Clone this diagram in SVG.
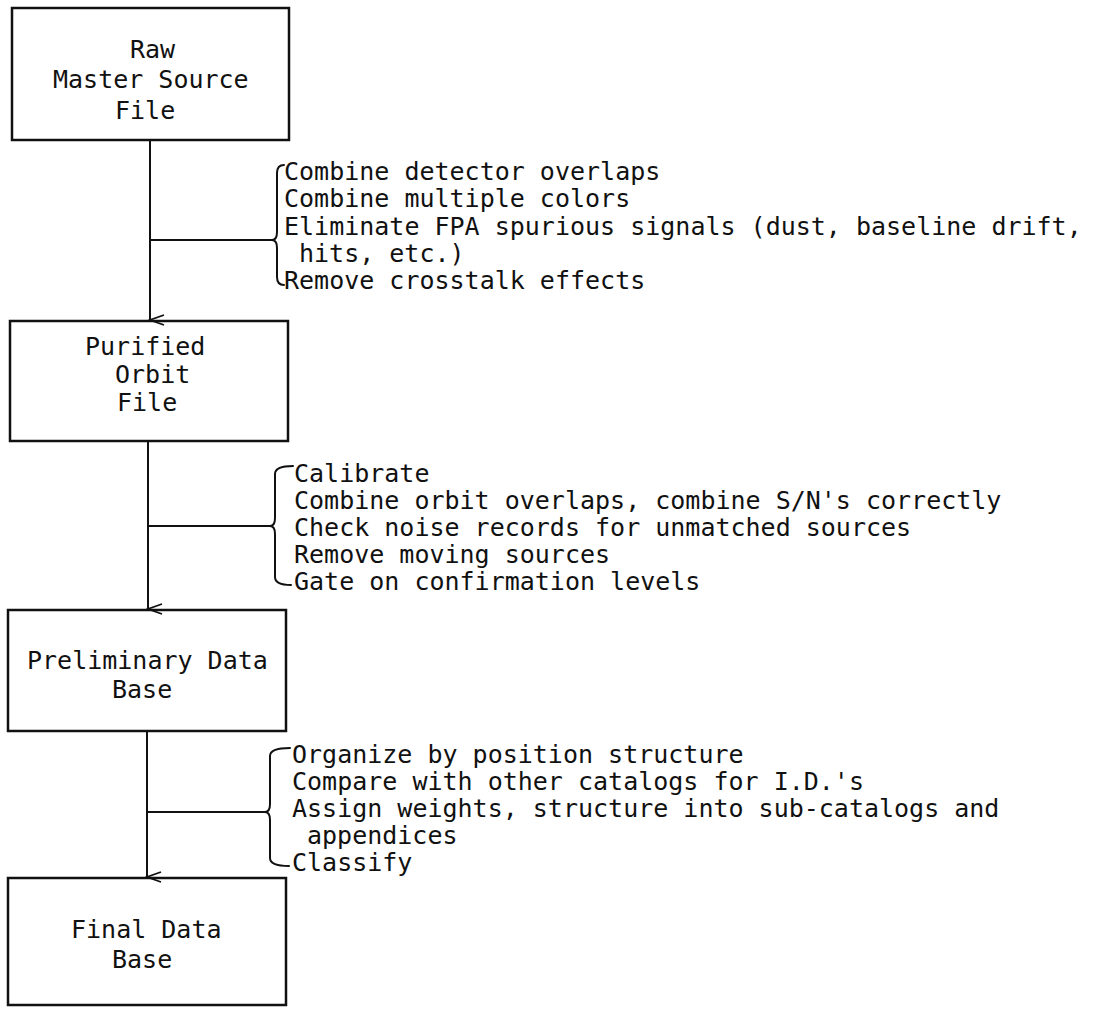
<svg xmlns="http://www.w3.org/2000/svg" width="1095" height="1009" viewBox="0 0 1095 1009">
<style>
.box{fill:none;stroke:#111;stroke-width:2.5}
.ln{fill:none;stroke:#111;stroke-width:2}
.br{fill:none;stroke:#111;stroke-width:2;stroke-linecap:round;stroke-linejoin:round}
text{font-family:"DejaVu Sans Mono","Liberation Mono",monospace;font-size:25px;fill:#111}
</style>
<defs>
<marker id="arr" markerWidth="16" markerHeight="20" refX="8" refY="18" orient="auto-start-reverse" markerUnits="userSpaceOnUse" viewBox="0 0 16 20">
<path d="M3,4 L8,18 L13,4" fill="none" stroke="#111" stroke-width="1.8"/>
</marker>
</defs>
<rect width="1095" height="1009" fill="#fff"/>
<g id="n1">
<rect class="box" x="12" y="8" width="277" height="132"/>
<text x="130" y="58">Raw</text>
<text x="53" y="88">Master Source</text>
<text x="115" y="119">File</text>
</g>
<g id="n2">
<rect class="box" x="10" y="321" width="278" height="120"/>
<text x="85" y="355">Purified</text>
<text x="115" y="383">Orbit</text>
<text x="117" y="411">File</text>
</g>
<g id="n3">
<rect class="box" x="8" y="610" width="278" height="121"/>
<text x="27" y="669">Preliminary Data</text>
<text x="112" y="698">Base</text>
</g>
<g id="n4">
<rect class="box" x="8" y="878" width="278" height="127"/>
<text x="71" y="938">Final Data</text>
<text x="112" y="968">Base</text>
</g>
<g id="notes">
<text x="284" y="180">Combine detector overlaps</text>
<text x="284" y="207">Combine multiple colors</text>
<text x="284" y="235">Eliminate FPA spurious signals (dust, baseline drift,</text>
<text x="299" y="262">hits, etc.)</text>
<text x="284" y="289">Remove crosstalk effects</text>
<text x="294" y="482">Calibrate</text>
<text x="294" y="509">Combine orbit overlaps, combine S/N's correctly</text>
<text x="294" y="536">Check noise records for unmatched sources</text>
<text x="294" y="563">Remove moving sources</text>
<text x="294" y="590">Gate on confirmation levels</text>
<text x="292" y="763">Organize by position structure</text>
<text x="292" y="790">Compare with other catalogs for I.D.'s</text>
<text x="292" y="817">Assign weights, structure into sub-catalogs and</text>
<text x="307" y="844">appendices</text>
<text x="292" y="871">Classify</text>
</g>
<g id="connectors">
<line class="ln" x1="150" y1="140" x2="150" y2="320" marker-end="url(#arr)"/>
<line class="ln" x1="148" y1="441" x2="148" y2="609" marker-end="url(#arr)"/>
<line class="ln" x1="147" y1="731" x2="147" y2="877" marker-end="url(#arr)"/>
<line class="ln" x1="150" y1="240" x2="272" y2="240"/>
<line class="ln" x1="148" y1="526" x2="270" y2="526"/>
<line class="ln" x1="147" y1="812" x2="265" y2="812"/>
<path class="br" d="M284,165 Q277,165 277,173 L277,232 Q277,240 272,240 Q277,240 277,248 L277,277 Q277,285 284,285"/>
<path class="br" d="M293,466 Q275,466 275,474 L275,518 Q275,526 270,526 Q275,526 275,534 L275,577 Q275,585 291,585"/>
<path class="br" d="M290,748 Q270,748 270,756 L270,804 Q270,812 265,812 Q270,812 270,820 L270,858 Q270,866 289,866"/>
</g>
</svg>
